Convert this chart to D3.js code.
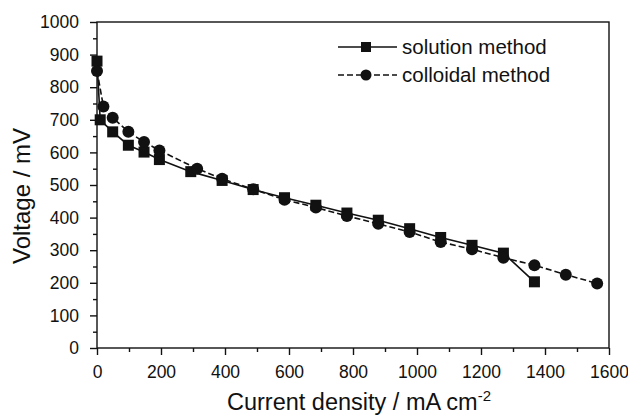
<!DOCTYPE html>
<html><head><meta charset="utf-8">
<script src="https://cdn.jsdelivr.net/npm/d3@7"></script>
<style>body{margin:0;background:#fff}svg{display:block}text{font-family:"Liberation Sans",Arial,sans-serif;fill:#111}</style>
</head><body><svg id="c" width="628" height="415"></svg>
<script>
const solutionX = [0, 10, 49, 98, 147, 195, 293, 391, 488, 586, 684, 781, 879, 977, 1074, 1172, 1270, 1367];
const solutionY = [880, 700, 663, 622, 601, 578, 541, 514, 486, 461, 438, 414, 392, 366, 339, 315, 291, 203];
const colloidX = [0, 20, 49, 98, 147, 195, 313, 391, 488, 586, 684, 781, 879, 977, 1074, 1172, 1270, 1367, 1465, 1563];
const colloidY = [850, 741, 706, 663, 632, 606, 550, 519, 487, 455, 431, 405, 381, 356, 325, 303, 277, 254, 225, 198];
const xTicks = [0, 200, 400, 600, 800, 1000, 1200, 1400, 1600];
const yTicks = [0, 100, 200, 300, 400, 500, 600, 700, 800, 900, 1000];
const seriesNames = ["solution method", "colloidal method"];

const svg = d3.select("#c");
const L = 97, R = 609, T = 22, B = 348;
const x = d3.scaleLinear().domain([0, 1600]).range([L, R]);
const y = d3.scaleLinear().domain([0, 1000]).range([B, T]);

// frame
svg.append("rect").attr("x", L).attr("y", T).attr("width", R - L).attr("height", B - T)
  .attr("fill", "none").attr("stroke", "#111").attr("stroke-width", 1.4);

// x axis
const gx = svg.append("g").attr("transform", `translate(0,${B})`);
gx.call(d3.axisBottom(x).tickValues(d3.range(100, 1600, 200)).tickSize(4).tickFormat(""))
  .call(g => g.select(".domain").remove());
gx.append("g").call(d3.axisBottom(x).tickValues(xTicks).tickSize(7).tickPadding(11).tickFormat(d3.format("d")))
  .call(g => g.select(".domain").remove())
  .call(g => g.selectAll("text").attr("font-size", 17.5).style("fill", "#111"));
gx.selectAll("line").attr("stroke", "#111").attr("stroke-width", 1.4);

// y axis
const gy = svg.append("g").attr("transform", `translate(${L},0)`);
gy.call(d3.axisLeft(y).tickValues(d3.range(50, 1000, 100)).tickSize(4).tickFormat(""))
  .call(g => g.select(".domain").remove());
gy.append("g").call(d3.axisLeft(y).tickValues(yTicks).tickSize(7).tickPadding(11).tickFormat(d3.format("d")))
  .call(g => g.select(".domain").remove())
  .call(g => g.selectAll("text").attr("font-size", 17.5).style("fill", "#111"));
gy.selectAll("line").attr("stroke", "#111").attr("stroke-width", 1.4);

// axis titles
const xt = svg.append("text").attr("x", 359).attr("y", 410).attr("text-anchor", "middle").attr("font-size", 23.5);
xt.append("tspan").text("Current density / mA cm");
xt.append("tspan").attr("dy", -9).attr("font-size", 15).text("-2");
svg.append("text").attr("transform", "translate(30,196) rotate(-90)").attr("text-anchor", "middle")
  .attr("font-size", 24).text("Voltage / mV");

const sol = solutionX.map((v, i) => [v, solutionY[i]]);
const col = colloidX.map((v, i) => [v, colloidY[i]]);
const line = d3.line().x(d => x(d[0])).y(d => y(d[1]));

svg.append("path").datum(col).attr("d", line).attr("fill", "none").attr("stroke", "#111")
  .attr("stroke-width", 1.6).attr("stroke-dasharray", "6,3");
svg.append("path").datum(sol).attr("d", line).attr("fill", "none").attr("stroke", "#111")
  .attr("stroke-width", 1.6);

const sq = 11, rc = 6;
svg.append("g").selectAll("rect").data(sol).join("rect")
  .attr("x", d => x(d[0]) - sq / 2).attr("y", d => y(d[1]) - sq / 2)
  .attr("width", sq).attr("height", sq).attr("fill", "#111");
svg.append("g").selectAll("circle").data(col).join("circle")
  .attr("cx", d => x(d[0])).attr("cy", d => y(d[1])).attr("r", rc).attr("fill", "#111");

// legend
const lg = svg.append("g");
lg.append("line").attr("x1", 338).attr("x2", 397).attr("y1", 47).attr("y2", 47).attr("stroke", "#111").attr("stroke-width", 1.6);
lg.append("rect").attr("x", 361).attr("y", 42).attr("width", 10).attr("height", 10).attr("fill", "#111");
lg.append("text").attr("x", 402).attr("y", 54).attr("font-size", 20.5).text(seriesNames[0]);
lg.append("line").attr("x1", 338).attr("x2", 397).attr("y1", 75).attr("y2", 75).attr("stroke", "#111").attr("stroke-width", 1.6).attr("stroke-dasharray", "6,3");
lg.append("circle").attr("cx", 366).attr("cy", 75).attr("r", 5.5).attr("fill", "#111");
lg.append("text").attr("x", 402).attr("y", 82).attr("font-size", 20.5).text(seriesNames[1]);
</script></body></html>
